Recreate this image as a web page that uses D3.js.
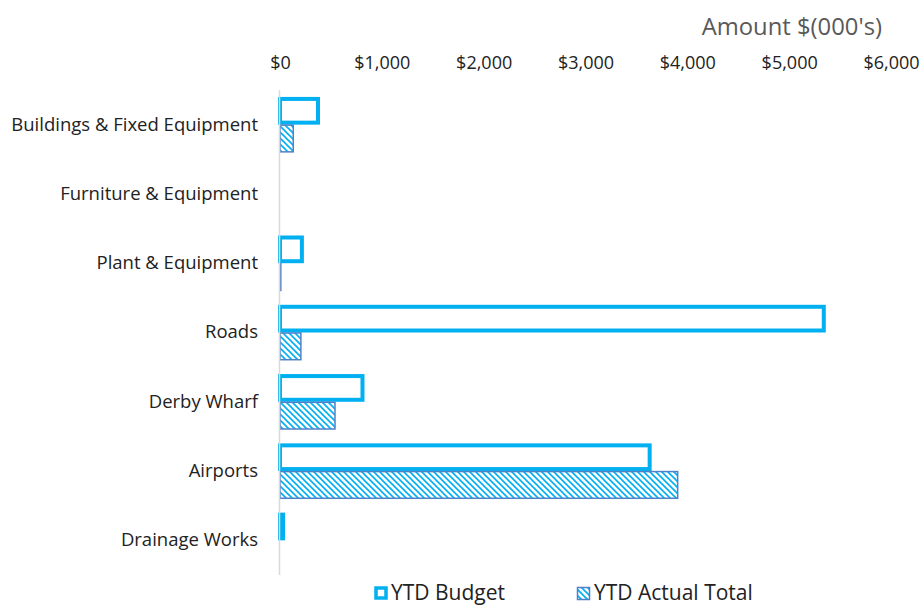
<!DOCTYPE html>
<html>
<head>
<meta charset="utf-8">
<script src="https://cdn.jsdelivr.net/npm/d3@7"></script>
<style>
  body { margin: 0; background: #fff; }
  svg { font-family: "Open Sans", "Noto Sans", sans-serif; }
</style>
</head>
<body>
<svg width="922" height="606"></svg>
<script>
// chart data
var categories = ['Buildings & Fixed Equipment', 'Furniture & Equipment', 'Plant & Equipment',
  'Roads', 'Derby Wharf', 'Airports', 'Drainage Works'];
var budget = [373, 0, 215, 5340, 810, 3630, 30];
var actual = [130, 0, 8, 205, 540, 3905, 0];
var xTicks = [0, 1000, 2000, 3000, 4000, 5000, 6000];
var seriesNames = ['YTD Budget', 'YTD Actual Total'];

var svg = d3.select('svg');

// margins of the plot area
var margin = { top: 90, bottom: 31, left: 280, right: 31 };
var width = 922 - margin.left - margin.right;
var height = 606 - margin.top - margin.bottom;

var g = svg.append('g')
  .attr('transform', 'translate(' + margin.left + ',' + margin.top + ')');

// diagonal stripe pattern for the actual series
var defs = svg.append('defs');
var pat = defs.append('pattern')
  .attr('id', 'stripes')
  .attr('patternUnits', 'userSpaceOnUse')
  .attr('width', 6)
  .attr('height', 6);
pat.append('rect').attr('width', 6).attr('height', 6).attr('fill', '#fff');
pat.append('path')
  .attr('d', 'M0,0 L6,6 M-1,5 L1,7 M5,-1 L7,1')
  .attr('stroke', '#00B0F0')
  .attr('stroke-width', 1.6);

var xScale = d3.scaleLinear()
  .domain([0, 6000])
  .range([0, width]);

var yScale = d3.scaleBand()
  .domain(categories)
  .range([0, height])
  .paddingInner(0.2)
  .paddingOuter(0.1);

var sub = d3.scaleBand()
  .domain(seriesNames)
  .range([0, yScale.bandwidth()]);

// top axis tick labels
var xAxis = d3.axisTop(xScale)
  .tickValues(xTicks)
  .tickSize(0)
  .tickPadding(21)
  .tickFormat(function(d) { return '$' + d3.format(',')(d); });

g.append('g')
  .call(xAxis)
  .attr('font-family', null)
  .attr('font-size', 18)
  .call(function(a) { a.select('.domain').remove(); })
  .selectAll('text')
  .attr('fill', '#222');

// axis title
g.append('text')
  .attr('x', xScale(6000) - 9)
  .attr('y', -55)
  .attr('text-anchor', 'end')
  .attr('font-size', 23.8)
  .attr('fill', '#595959')
  .text('Amount $(000\'s)');

// category labels
var yAxis = d3.axisLeft(yScale)
  .tickSize(0)
  .tickPadding(22);

g.append('g')
  .call(yAxis)
  .attr('font-family', null)
  .attr('font-size', 18.5)
  .call(function(a) { a.select('.domain').remove(); })
  .selectAll('text')
  .attr('fill', '#222');

// budget bars (outlined)
g.selectAll('.budget')
  .data(categories)
  .enter()
  .filter(function(d, i) { return budget[i] > 0; })
  .append('rect')
  .attr('class', 'budget')
  .attr('x', xScale(0))
  .attr('y', function(d) { return yScale(d) + sub('YTD Budget') + 2; })
  .attr('width', function(d) { return xScale(budget[categories.indexOf(d)]) - xScale(0); })
  .attr('height', sub.bandwidth() - 4)
  .attr('fill', '#fff')
  .attr('stroke', '#00B0F0')
  .attr('stroke-width', 4);

// actual bars (striped)
g.selectAll('.actual')
  .data(categories)
  .enter()
  .filter(function(d, i) { return actual[i] > 0; })
  .append('rect')
  .attr('class', 'actual')
  .attr('x', xScale(0))
  .attr('y', function(d) { return yScale(d) + sub('YTD Actual Total') + 0.5; })
  .attr('width', function(d) { return xScale(actual[categories.indexOf(d)]) - xScale(0); })
  .attr('height', sub.bandwidth() - 1)
  .attr('fill', 'url(#stripes)')
  .attr('stroke', '#4F81C7')
  .attr('stroke-width', 1.5);

// vertical axis line
g.append('line')
  .attr('x1', -0.5).attr('x2', -0.5)
  .attr('y1', 0).attr('y2', height)
  .attr('stroke', '#D9D9D9')
  .attr('stroke-width', 1.5);

// legend
var legend = svg.append('g');
legend.append('rect')
  .attr('x', 376).attr('y', 588)
  .attr('width', 10).attr('height', 10)
  .attr('fill', '#fff')
  .attr('stroke', '#00B0F0')
  .attr('stroke-width', 3.5);
legend.append('text')
  .attr('x', 391).attr('y', 600)
  .attr('font-size', 21)
  .attr('fill', '#222')
  .text(seriesNames[0]);
legend.append('rect')
  .attr('x', 577.5).attr('y', 587.5)
  .attr('width', 12).attr('height', 12)
  .attr('fill', 'url(#stripes)')
  .attr('stroke', '#4F81C7')
  .attr('stroke-width', 1.5);
legend.append('text')
  .attr('x', 594).attr('y', 600)
  .attr('font-size', 21)
  .attr('fill', '#222')
  .text(seriesNames[1]);
</script>
</body>
</html>
